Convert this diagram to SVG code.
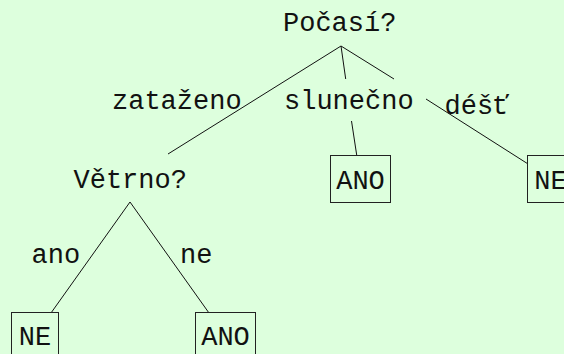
<svg xmlns="http://www.w3.org/2000/svg" width="564" height="354" viewBox="0 0 564 354">
<style>
.t{font-family:"Liberation Mono","DejaVu Sans Mono",monospace;font-size:27px;fill:#111}
.b{fill:none;stroke:#222;stroke-width:1}
.e{stroke:#111;stroke-width:1;fill:none}
.m{text-anchor:middle}
</style>
<rect x="0" y="0" width="564" height="354" fill="#ddffdd"/>
<g id="edges">
<line class="e" x1="341" y1="46" x2="168" y2="154"/>
<line class="e" x1="341" y1="46" x2="345.7" y2="79"/>
<line class="e" x1="341" y1="46" x2="394" y2="79"/>
<line class="e" x1="351.5" y1="121" x2="356.7" y2="155"/>
<line class="e" x1="426" y1="99" x2="527" y2="163.3"/>
<line class="e" x1="130" y1="202" x2="51.7" y2="312"/>
<line class="e" x1="130" y1="202" x2="208.3" y2="312"/>
</g>
<g id="pocasi"><text class="t" x="283" y="31">Počasí?</text></g>
<g id="zatazeno"><text class="t" x="112" y="109.3">zataženo</text></g>
<g id="slunecno"><text class="t" x="284" y="109.3">slunečno</text></g>
<g id="dest"><text class="t" x="444.5" y="114.3">déšť</text></g>
<g id="vetrno"><text class="t" x="73.5" y="188.3">Větrno?</text></g>
<g id="ano-label"><text class="t" x="31.5" y="263.3">ano</text></g>
<g id="ne-label"><text class="t" x="180" y="263.3">ne</text></g>
<g id="ano1"><rect class="b" x="330.5" y="155.5" width="60" height="47"/><text class="t m" x="360.5" y="189.3">ANO</text></g>
<g id="ne1"><rect class="b" x="527.5" y="155.5" width="47" height="47"/><text class="t m" x="550.5" y="189.3">NE</text></g>
<g id="ne2"><rect class="b" x="11.5" y="312.5" width="47" height="47"/><text class="t m" x="35" y="345">NE</text></g>
<g id="ano2"><rect class="b" x="195.5" y="312.5" width="60" height="47"/><text class="t m" x="225.5" y="345">ANO</text></g>
</svg>
